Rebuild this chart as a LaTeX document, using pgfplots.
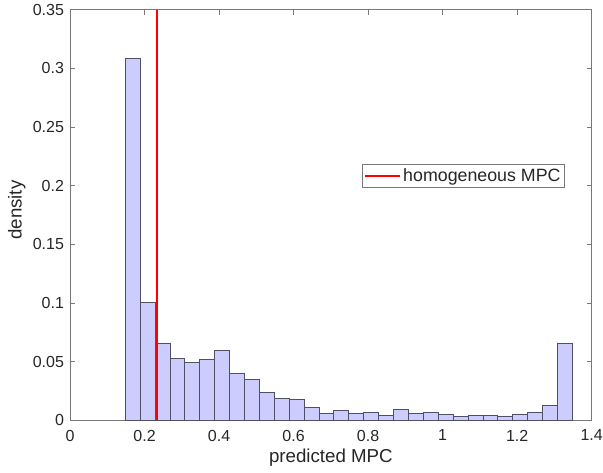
\documentclass[border=0pt]{standalone}
\usepackage{pgfplots}
\pgfplotsset{compat=1.18}
\usepackage{fontspec}
\setmainfont{Liberation Sans}
\definecolor{barfill}{RGB}{204,204,255}
\definecolor{baredge}{RGB}{80,80,100}
\definecolor{axgray}{RGB}{120,120,120}
\definecolor{txt}{RGB}{38,38,38}
\begin{document}
\begin{tikzpicture}
\useasboundingbox (0,0) rectangle (603pt,472pt);
\begin{axis}[
  at={(70pt,51.7pt)}, anchor=south west,
  scale only axis, width=521.7pt, height=410.6pt,
  xmin=0, xmax=1.4, ymin=0, ymax=0.35,
  xtick={0,0.2,0.4,0.6,0.8,1,1.2,1.4},
  ytick={0,0.05,0.1,0.15,0.2,0.25,0.3,0.35},
  yticklabels={0,0.05,0.1,0.15,0.2,0.25,0.3,0.35},
  xticklabels={0,0.2,0.4,0.6,0.8,1,1.2,1.4},
  scaled ticks=false,
  tick align=inside, major tick length=5pt,
  axis line style={draw=axgray, line width=0.6pt},
  every tick/.style={draw=axgray, line width=0.6pt},
  ticklabel style={font=\fontsize{16}{19}\selectfont, text=txt},
  xticklabel style={yshift=-6pt},
  yticklabel style={xshift=-2.5pt},
  /pgf/number format/assume math mode=true,
  xlabel={predicted MPC}, ylabel={density},
  label style={font=\fontsize{18.7}{22}\selectfont, text=txt},
  xlabel style={at={(axis description cs:0.5,0)}, anchor=base, yshift=-42.4pt},
  ylabel style={at={(axis description cs:0,0.512)}, anchor=base, yshift=48.3pt},
  legend style={at={(0.559,0.6235)}, anchor=north west, draw=axgray, line width=0.6pt,
    font=\fontsize{17.8}{20}\selectfont, text=txt, inner xsep=2pt, inner ysep=2pt,
    nodes={inner sep=2pt}},
  legend image code/.code={\draw[#1] (0pt,0pt) -- (35pt,0pt);},
]
\addplot[ybar interval, fill=barfill, draw=baredge, line width=0.7pt, forget plot] coordinates {
(0.148,0.3086) (0.188,0.1008) (0.228,0.0660) (0.268,0.0528) (0.308,0.0494)
(0.348,0.0522) (0.388,0.0593) (0.428,0.0400) (0.468,0.0349) (0.508,0.0239)
(0.548,0.0188) (0.588,0.0176) (0.628,0.0110) (0.668,0.0056) (0.708,0.0085)
(0.748,0.0056) (0.788,0.0068) (0.828,0.0043) (0.868,0.0092) (0.908,0.0060)
(0.948,0.0070) (0.988,0.0051) (1.028,0.0034) (1.068,0.0045) (1.108,0.0042)
(1.148,0.0037) (1.188,0.0054) (1.228,0.0065) (1.268,0.0127) (1.308,0.0655)
(1.348,0)
};
\addplot[red, line width=2.3pt] coordinates {(0.2343,0) (0.2343,0.35)};
\addlegendentry{homogeneous MPC}
\end{axis}
\end{tikzpicture}
\end{document}
